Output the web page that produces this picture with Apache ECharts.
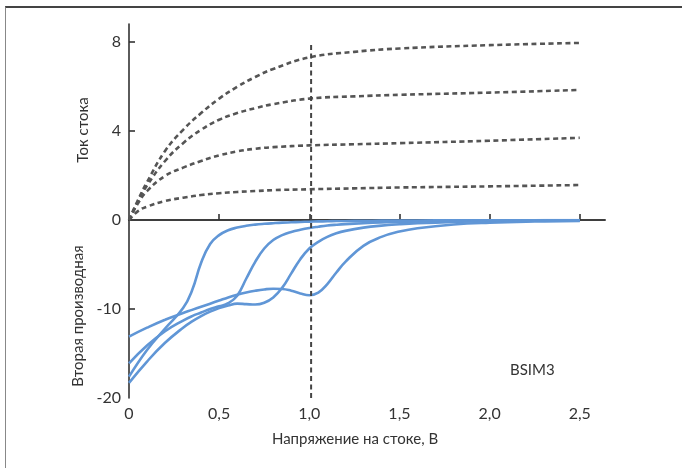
<!DOCTYPE html>
<html>
<head>
<meta charset="utf-8">
<script src="https://cdn.jsdelivr.net/npm/echarts@6/dist/echarts.min.js"></script>
<style>
    html, body { margin: 0; padding: 0; background: #fff; }
    #frame {
        position: absolute; left: 5px; top: 6px; width: 677px; height: 462px;
        border-top: 2px solid #444; border-left: 1px solid #888;
    }
    #chart { position: absolute; left: 0; top: 0; width: 682px; height: 468px; }
</style>
</head>
<body>
<div id="frame"></div>
<div id="chart"></div>
<script>
    // ток стока (верхняя часть)
    var xUpper = [0, 0.05, 0.1, 0.2, 0.3, 0.4, 0.5, 0.6, 0.7, 0.8, 1.0, 1.25, 1.5, 2.0, 2.5];
    var id1 = [0, 0.4, 0.6, 0.85, 1.0, 1.12, 1.2, 1.26, 1.3, 1.34, 1.38, 1.42, 1.46, 1.51, 1.57];
    var id2 = [0, 0.75, 1.3, 1.98, 2.35, 2.65, 2.9, 3.08, 3.2, 3.27, 3.35, 3.4, 3.45, 3.56, 3.69];
    var id3 = [0, 0.85, 1.55, 2.65, 3.45, 4.05, 4.5, 4.8, 5.02, 5.2, 5.45, 5.55, 5.62, 5.72, 5.84];
    var id4 = [0, 0.9, 1.7, 3.1, 4.05, 4.8, 5.45, 5.98, 6.42, 6.78, 7.3, 7.55, 7.7, 7.85, 7.95];

    // вторая производная (нижняя часть)
    var xLower = [0, 0.1, 0.2, 0.3, 0.35, 0.4, 0.45, 0.5, 0.55, 0.6, 0.65, 0.7, 0.75, 0.8, 0.85,
        0.9, 0.95, 1.0, 1.05, 1.1, 1.15, 1.2, 1.3, 1.4, 1.5, 1.6, 1.8, 2.0, 2.25, 2.5];
    var d1 = [-17.6, -14.6, -12.2, -9.9, -7.9, -4.8, -2.7, -1.7, -1.15, -0.85, -0.65, -0.52, -0.43, -0.36, -0.3,
        -0.26, -0.22, -0.19, -0.16, -0.14, -0.12, -0.11, -0.09, -0.07, -0.06, -0.05, -0.04, -0.03, -0.02, -0.01];
    var d2 = [-16.1, -14.1, -12.5, -11.3, -10.8, -10.4, -10.0, -9.7, -9.35, -8.5, -6.6, -4.7, -3.2, -2.25, -1.7,
        -1.35, -1.1, -0.9, -0.75, -0.62, -0.53, -0.46, -0.36, -0.28, -0.21, -0.17, -0.11, -0.07, -0.04, -0.02];
    var d3 = [-18.3, -15.9, -13.8, -12.1, -11.4, -10.8, -10.3, -9.9, -9.6, -9.4, -9.45, -9.5, -9.3, -8.7, -7.6,
        -6.0, -4.4, -3.2, -2.45, -1.9, -1.5, -1.22, -0.86, -0.63, -0.48, -0.37, -0.23, -0.14, -0.08, -0.05];
    var d4 = [-13.1, -12.1, -11.2, -10.45, -10.1, -9.75, -9.4, -9.05, -8.7, -8.4, -8.15, -7.95, -7.8, -7.72, -7.75,
        -7.95, -8.25, -8.45, -8.15, -7.2, -5.9, -4.7, -2.9, -1.9, -1.3, -0.92, -0.5, -0.3, -0.17, -0.1];

    var vLineX = 1.01;
    var xTicks = [0.5, 1, 1.5, 2, 2.5];
    var xLabels = [0, 0.5, 1, 1.5, 2, 2.5];

    function pairs(xs, ys) {
        return xs.map(function (x, i) { return [x, ys[i]]; });
    }

    var font = 'Lato, "Open Sans", sans-serif';
    var axisColor = '#333';

    var myChart = echarts.init(document.getElementById('chart'));

    var dashedStyle = { color: '#555', width: 2.6, type: [5, 3.5] };
    var blueStyle = { color: '#6096d6', width: 2.6 };

    var series = [];
    [id1, id2, id3, id4].forEach(function (arr) {
        series.push({
            type: 'line', xAxisIndex: 0, yAxisIndex: 0, data: pairs(xUpper, arr),
            smooth: 0.45, showSymbol: false, lineStyle: dashedStyle, silent: true
        });
    });
    [d1, d2, d3, d4].forEach(function (arr) {
        series.push({
            type: 'line', xAxisIndex: 1, yAxisIndex: 1, data: pairs(xLower, arr),
            smooth: 0.45, showSymbol: false, lineStyle: blueStyle, silent: true
        });
    });
    // вертикальная пунктирная линия
    series.push({
        type: 'line', xAxisIndex: 0, yAxisIndex: 0, data: [[vLineX, 0], [vLineX, 8]],
        showSymbol: false, lineStyle: { color: '#444', width: 2, type: [5, 3.5] }, silent: true
    });
    series.push({
        type: 'line', xAxisIndex: 1, yAxisIndex: 1, data: [[vLineX, -20], [vLineX, 0]],
        showSymbol: false, lineStyle: { color: '#444', width: 2, type: [5, 3.5] }, silent: true
    });

    var option = {
        animation: false,
        title: {
            text: 'BSIM3', left: 505, top: 358,
            textStyle: { fontFamily: font, fontSize: 15, fontWeight: 'normal', color: '#333' }
        },
        grid: [
            { left: 129, right: 77, top: 24, height: 196 },
            { left: 129, right: 77, top: 220, height: 178 }
        ],
        xAxis: [
            {
                gridIndex: 0, type: 'value', min: 0, max: 2.64,
                axisLine: { lineStyle: { color: axisColor, width: 1.6 } },
                axisTick: { show: false }, axisLabel: { show: false }, splitLine: { show: false }
            },
            {
                gridIndex: 1, type: 'value', min: 0, max: 2.64,
                name: 'Напряжение на стоке, В', nameLocation: 'middle', nameGap: 34,
                nameTextStyle: { fontFamily: font, fontSize: 15, color: '#333', padding: [0, 24, 0, 0] },
                axisLine: { lineStyle: { color: axisColor, width: 1.6 } },
                axisTick: { inside: true, length: 6, customValues: xTicks, lineStyle: { color: axisColor, width: 1.6 } },
                axisLabel: {
                    customValues: xLabels, margin: 8, fontFamily: font, fontSize: 16, color: '#333',
                    formatter: function (v) { return v === 0 ? '0' : v.toFixed(1).replace('.', ','); }
                },
                splitLine: { show: false }
            }
        ],
        yAxis: [
            {
                gridIndex: 0, type: 'value', min: 0, max: 8.8,
                name: 'Ток стока', nameLocation: 'middle', nameGap: 38,
                nameTextStyle: { fontFamily: font, fontSize: 15, color: '#333', padding: [0, 16, 0, 0] },
                axisLine: { lineStyle: { color: axisColor, width: 1.6 } },
                axisTick: { inside: true, length: 6, customValues: [4, 8], lineStyle: { color: axisColor, width: 1.6 } },
                axisLabel: { customValues: [0, 4, 8], margin: 8, fontFamily: font, fontSize: 16, color: '#333' },
                splitLine: { show: false }
            },
            {
                gridIndex: 1, type: 'value', min: -20, max: 0, interval: 10,
                name: 'Вторая производная', nameLocation: 'middle', nameGap: 38,
                nameTextStyle: { fontFamily: font, fontSize: 15, color: '#333', padding: [0, 14, 0, 0] },
                axisLine: { lineStyle: { color: axisColor, width: 1.6 } },
                axisTick: { inside: true, length: 6, customValues: [-10], lineStyle: { color: axisColor, width: 1.6 } },
                axisLabel: {
                    customValues: [-20, -10], margin: 8, fontFamily: font, fontSize: 16, color: '#333'
                },
                splitLine: { show: false }
            }
        ],
        series: series
    };

    option && myChart.setOption(option);
</script>
</body>
</html>
